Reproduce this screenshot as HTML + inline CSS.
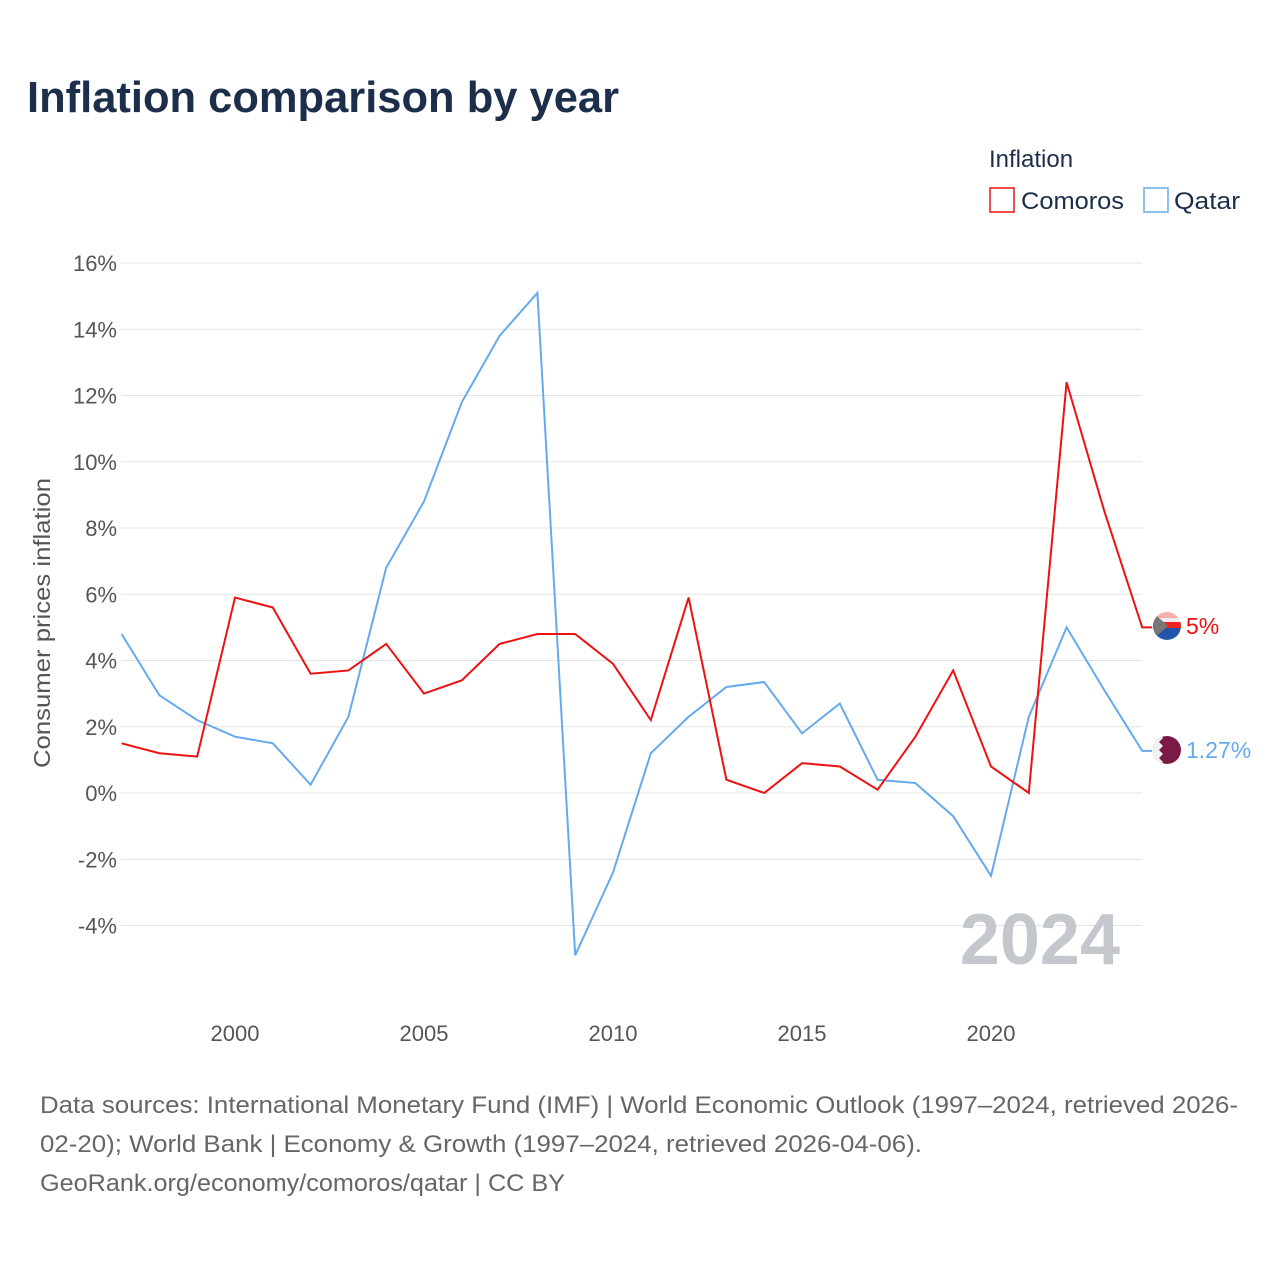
<!DOCTYPE html>
<html><head><meta charset="utf-8"><style>
body{margin:0;background:#fff;font-family:"Liberation Sans",sans-serif;}
svg text{font-family:"Liberation Sans",sans-serif;}
</style></head><body>
<svg width="1280" height="1280" xmlns="http://www.w3.org/2000/svg">
<text x="27" y="112" font-size="44" font-weight="bold" fill="#1c2e4a" textLength="592" lengthAdjust="spacingAndGlyphs">Inflation comparison by year</text>
<text x="989" y="167" font-size="24" fill="#1c2e4a">Inflation</text>
<g><rect x="990" y="188" width="24" height="24" fill="none" stroke="#ee1111" stroke-width="1.5"/><text x="1021" y="209" font-size="24" fill="#1c2e4a" textLength="103" lengthAdjust="spacingAndGlyphs">Comoros</text></g>
<g><rect x="1144" y="188" width="24" height="24" fill="none" stroke="#66aaee" stroke-width="1.5"/><text x="1174" y="209" font-size="24" fill="#1c2e4a" textLength="66" lengthAdjust="spacingAndGlyphs">Qatar</text></g>
<g id="grid"></g><g id="yt"></g><g id="xt"></g>
<text transform="translate(50,623) rotate(-90)" text-anchor="middle" font-size="23" fill="#555" textLength="290" lengthAdjust="spacingAndGlyphs">Consumer prices inflation</text>
<text x="1120" y="964" text-anchor="end" font-size="72" font-weight="bold" fill="#c4c7cc">2024</text>
<g id="series"></g>
<g>
<clipPath id="c1"><circle cx="1167" cy="626" r="14"/></clipPath>
<g clip-path="url(#c1)"><rect x="1150" y="610" width="34" height="8" fill="#f7b0a8"/><rect x="1150" y="618" width="34" height="4" fill="#eee"/><rect x="1150" y="622" width="34" height="6" fill="#ee2222"/><rect x="1150" y="628" width="34" height="14" fill="#2255aa"/><polygon points="1150,610 1168,626 1150,642" fill="#777"/></g></g>
<text x="1186" y="634" font-size="23" fill="#ee1111">5%</text>
<g>
<clipPath id="c2"><circle cx="1167" cy="750" r="14"/></clipPath>
<g clip-path="url(#c2)"><rect x="1150" y="734" width="34" height="34" fill="#7a1a45"/><polygon points="1150,734 1159,734 1163,738 1159,742 1163,746 1159,750 1163,754 1159,758 1163,762 1159,766 1150,766" fill="#f2f2f2"/></g></g>
<text x="1186" y="758" font-size="23" fill="#66aaee">1.27%</text>
<text x="40" y="1113" font-size="24" fill="#666" textLength="1198" lengthAdjust="spacingAndGlyphs">Data sources: International Monetary Fund (IMF) | World Economic Outlook (1997–2024, retrieved 2026-</text>
<text x="40" y="1152" font-size="24" fill="#666" textLength="882" lengthAdjust="spacingAndGlyphs">02-20); World Bank | Economy &amp; Growth (1997–2024, retrieved 2026-04-06).</text>
<text x="40" y="1191" font-size="24" fill="#666" textLength="525" lengthAdjust="spacingAndGlyphs">GeoRank.org/economy/comoros/qatar | CC BY</text>
</svg>
<script>
const years=[1997,1998,1999,2000,2001,2002,2003,2004,2005,2006,2007,2008,2009,2010,2011,2012,2013,2014,2015,2016,2017,2018,2019,2020,2021,2022,2023,2024];
const comoros=[1.5,1.2,1.1,5.9,5.6,3.6,3.7,4.5,3.0,3.4,4.5,4.8,4.8,3.9,2.2,5.9,0.4,0.0,0.9,0.8,0.1,1.7,3.7,0.8,0.0,12.4,8.5,5.0];
const qatar=[4.8,2.95,2.2,1.7,1.5,0.25,2.3,6.8,8.8,11.8,13.8,15.1,-4.9,-2.4,1.2,2.3,3.2,3.35,1.8,2.7,0.4,0.3,-0.7,-2.5,2.3,5.0,3.1,1.27];
const yTicks=[16,14,12,10,8,6,4,2,0,-2,-4];
const xTicks=[2000,2005,2010,2015,2020];
const X=y=>121.6+(y-1997)*37.8, Y=v=>793-v*33.125;
const NS="http://www.w3.org/2000/svg";
function mk(t,a,p){const e=document.createElementNS(NS,t);for(const k in a)e.setAttribute(k,a[k]);p.appendChild(e);return e;}
const g=document.getElementById('grid'),yt=document.getElementById('yt'),xt=document.getElementById('xt'),s=document.getElementById('series');
yTicks.forEach(v=>{
 const l=mk('line',{x1:121,x2:1142,y1:Y(v),y2:Y(v),stroke:'#e4e4e4','stroke-width':1},g);
 
 
 const t=mk('text',{x:117,y:Y(v)+8,'text-anchor':'end','font-size':22,fill:'#555'},yt);
 t.textContent=v+'%';
 
 
});
xTicks.forEach(v=>{
 const t=mk('text',{x:X(v),y:1041,'text-anchor':'middle','font-size':22,fill:'#555'},xt);
 t.textContent=v;
 
 
});
function line(d,c,n){
 const pts=d.map((v,i)=>X(years[i])+','+Y(v));
 pts.push((X(years[years.length-1])+10)+','+Y(d[d.length-1]));
 const p=mk('polyline',{points:pts.join(' '),fill:'none',stroke:c,'stroke-width':2},s);
 
 
}
line(qatar,'#66aaee','qatar-line');
line(comoros,'#ee1111','comoros-line');
</script>
</body></html>
